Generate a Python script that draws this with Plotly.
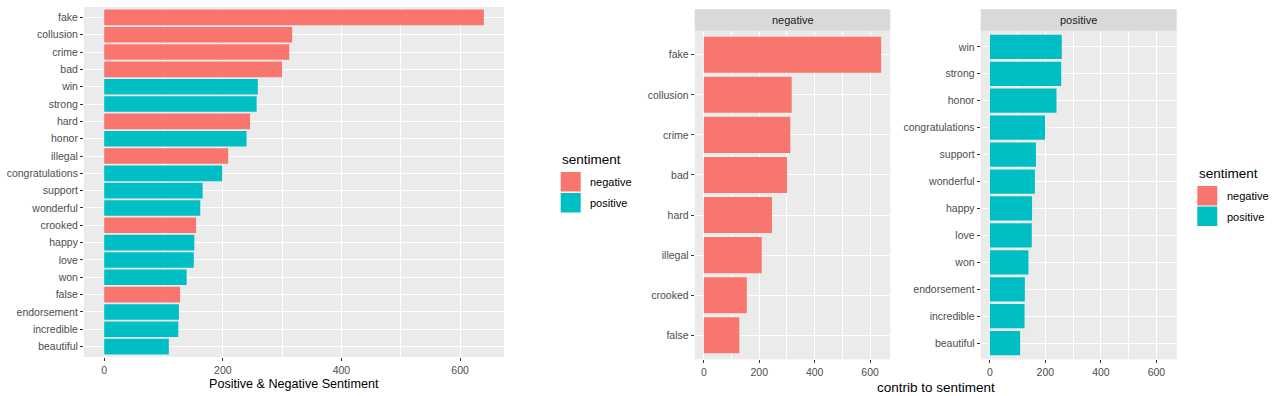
import plotly.graph_objects as go

# ---- data ----
neg_words = ["fake", "collusion", "crime", "bad", "hard", "illegal", "crooked", "false"]
neg_counts = [640, 317, 312, 300, 246, 209, 155, 128]
pos_words = ["win", "strong", "honor", "congratulations", "support", "wonderful",
             "happy", "love", "won", "endorsement", "incredible", "beautiful"]
pos_counts = [259, 257, 240, 199, 166, 162, 152, 151, 139, 126, 125, 109]
x_ticks = [0, 200, 400, 600]
legend_labels = ["negative", "positive"]

NEG_COL = "#F8766D"
POS_COL = "#00BFC4"
PANEL_BG = "#EBEBEB"
FONT = "Liberation Sans, Arial, sans-serif"
W, H = 1280, 396

def px_x(p):
    return p / W

def px_y(p):
    return 1 - p / H

all_pairs = sorted(list(zip(neg_words, neg_counts)) + list(zip(pos_words, pos_counts)),
                   key=lambda t: t[1], reverse=True)
all_order = [w for w, _ in all_pairs]

fig = go.Figure()

# left combined chart
fig.add_trace(go.Bar(x=neg_counts, y=neg_words, orientation="h", width=0.9,
                     marker=dict(color=NEG_COL, line=dict(width=0)),
                     xaxis="x", yaxis="y", showlegend=False, name="negative"))
fig.add_trace(go.Bar(x=pos_counts, y=pos_words, orientation="h", width=0.9,
                     marker=dict(color=POS_COL, line=dict(width=0)),
                     xaxis="x", yaxis="y", showlegend=False, name="positive"))
# facets
fig.add_trace(go.Bar(x=neg_counts, y=neg_words, orientation="h", width=0.9,
                     marker=dict(color=NEG_COL, line=dict(width=0)),
                     xaxis="x2", yaxis="y2", showlegend=False, name="negative"))
fig.add_trace(go.Bar(x=pos_counts, y=pos_words, orientation="h", width=0.9,
                     marker=dict(color=POS_COL, line=dict(width=0)),
                     xaxis="x3", yaxis="y3", showlegend=False, name="positive"))

tickfont = dict(family=FONT, size=10.5, color="#4D4D4D")

def xaxis_cfg(dom, anchor, rng):
    return dict(domain=dom, anchor=anchor, range=rng, tickvals=x_ticks,
                showgrid=True, gridcolor="white", gridwidth=1.2,
                minor=dict(dtick=100, tick0=0, showgrid=True, gridcolor="white", gridwidth=0.6, ticks=""),
                ticks="outside", ticklen=3, tickwidth=1, tickcolor="#333333",
                tickfont=tickfont, zeroline=False, showline=False, fixedrange=True)

def yaxis_cfg(dom, anchor, cats):
    n = len(cats)
    return dict(domain=dom, anchor=anchor, type="category", categoryorder="array",
                categoryarray=list(reversed(cats)), range=[-0.6, n - 0.4],
                showgrid=True, gridcolor="white", gridwidth=1.2,
                ticks="outside", ticklen=3, tickwidth=1, tickcolor="#333333",
                tickfont=tickfont, zeroline=False, showline=False, fixedrange=True)

left_x = [px_x(84), px_x(504)]
left_y = [px_y(357), px_y(7)]
neg_x = [px_x(694.7), px_x(890.3)]
pos_x = [px_x(980.7), px_x(1176.7)]
fac_y = [px_y(359.3), px_y(30.7)]

fig.update_layout(
    width=W, height=H,
    margin=dict(l=0, r=0, t=0, b=0),
    paper_bgcolor="white", plot_bgcolor=PANEL_BG,
    barmode="overlay", bargap=0.1,
    font=dict(family=FONT),
    xaxis=xaxis_cfg(left_x, "y", [-34, 674]),
    yaxis=yaxis_cfg(left_y, "x", all_order),
    xaxis2=xaxis_cfg(neg_x, "y2", [-33, 673]),
    yaxis2=yaxis_cfg(fac_y, "x2", neg_words),
    xaxis3=xaxis_cfg(pos_x, "y3", [-33, 673]),
    yaxis3=yaxis_cfg(fac_y, "x3", pos_words),
)

shapes = []
annotations = []

# strips
for (x0, x1), label in [((694.7, 890.3), "negative"), ((980.7, 1176.7), "positive")]:
    shapes.append(dict(type="rect", xref="paper", yref="paper",
                       x0=px_x(x0), x1=px_x(x1), y0=px_y(30.7), y1=px_y(9.3),
                       fillcolor="#D9D9D9", line=dict(width=0), layer="below"))
    annotations.append(dict(xref="paper", yref="paper", x=px_x((x0 + x1) / 2), y=px_y(20),
                            text=label, showarrow=False, xanchor="center", yanchor="middle",
                            font=dict(family=FONT, size=11, color="#1A1A1A")))

# axis titles
annotations.append(dict(xref="paper", yref="paper", x=px_x(294), y=px_y(384),
                        text="Positive &amp; Negative Sentiment", showarrow=False,
                        xanchor="center", yanchor="middle",
                        font=dict(family=FONT, size=12.6, color="black")))
annotations.append(dict(xref="paper", yref="paper", x=px_x(935.7), y=px_y(387),
                        text="contrib to sentiment", showarrow=False,
                        xanchor="center", yanchor="middle",
                        font=dict(family=FONT, size=13.5, color="black")))

# legends (drawn manually)
def add_legend(x_title, y_title, key_x0, key_tops, label_x):
    annotations.append(dict(xref="paper", yref="paper", x=px_x(x_title), y=px_y(y_title),
                            text="sentiment", showarrow=False, xanchor="left", yanchor="middle",
                            font=dict(family=FONT, size=13.5, color="black")))
    for top, col, lab in zip(key_tops, [NEG_COL, POS_COL], legend_labels):
        shapes.append(dict(type="rect", xref="paper", yref="paper",
                           x0=px_x(key_x0), x1=px_x(key_x0 + 20), y0=px_y(top + 19.5), y1=px_y(top),
                           fillcolor=col, line=dict(width=0)))
        annotations.append(dict(xref="paper", yref="paper", x=px_x(label_x), y=px_y(top + 10),
                                text=lab, showarrow=False, xanchor="left", yanchor="middle",
                                font=dict(family=FONT, size=11, color="black")))

add_legend(559.5, 160, 560.7, [172, 193], 587.5)
add_legend(1196.5, 173, 1197.3, [186, 206.5], 1224.5)

fig.update_layout(shapes=shapes, annotations=annotations)

fig.write_html("out.html",
               config={"displayModeBar": False},
               post_script="document.body.style.margin='0';document.body.style.overflow='hidden';")
